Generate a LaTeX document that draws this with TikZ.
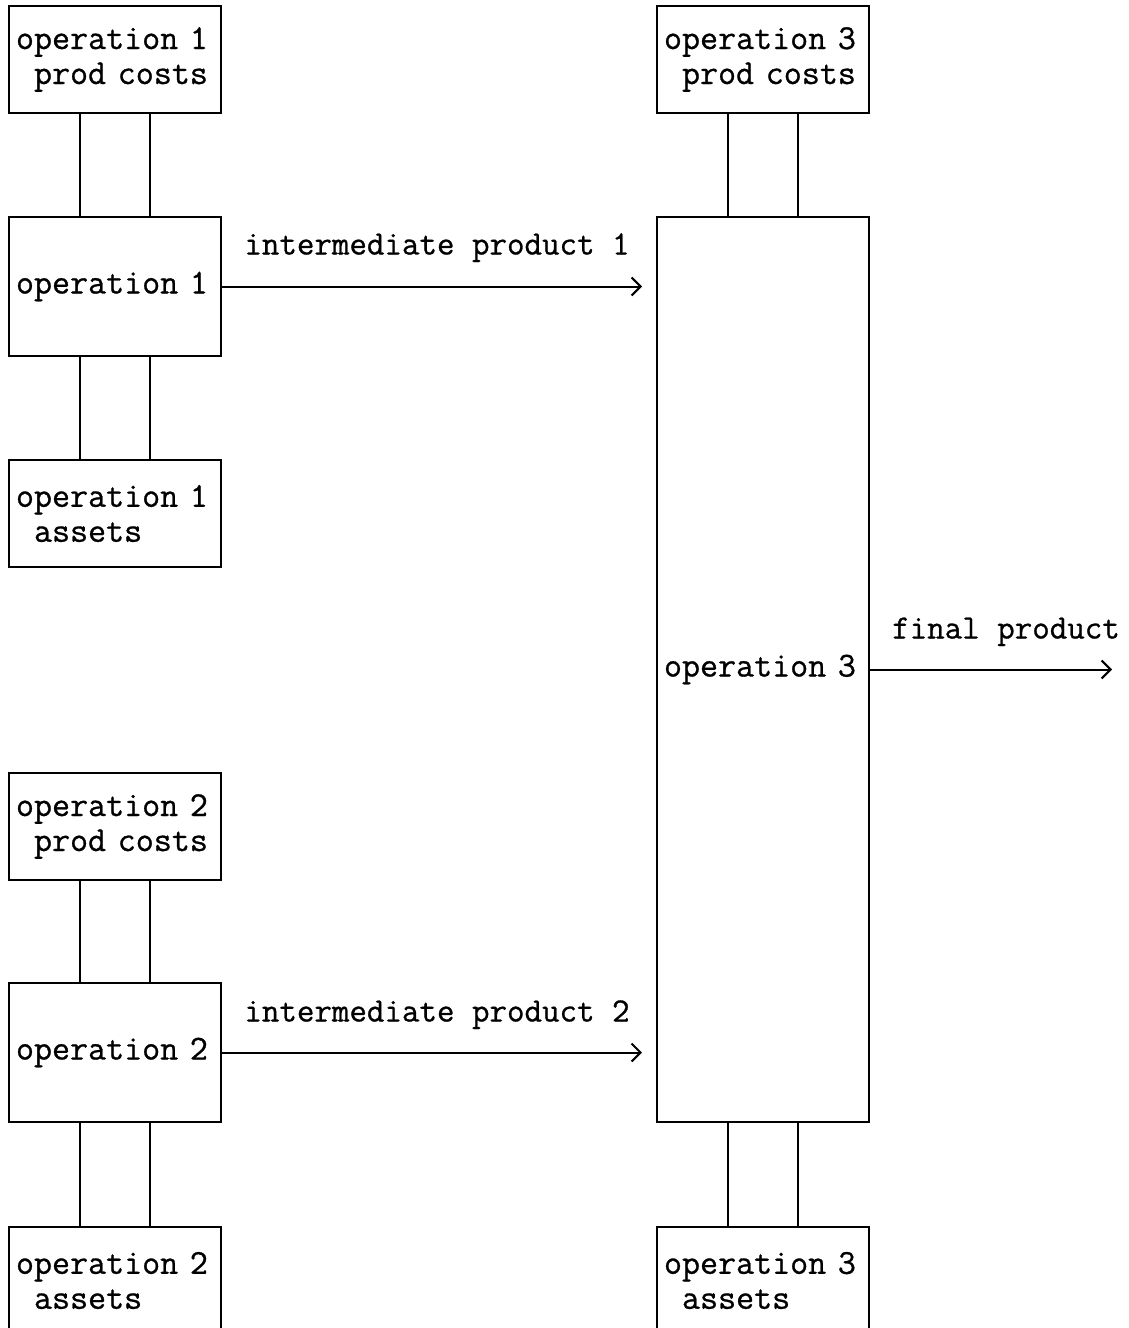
\documentclass[tikz,border=0pt]{standalone}
\usepackage{fontspec}
\usepackage{tikz}
\usetikzlibrary{positioning,arrows.meta}
\newfontfamily\typefont{Latin Modern Mono}[FakeBold=0.8]

\begin{document}
\begin{tikzpicture}[
  x=1pt, y=-1pt,
  font=\typefont,
  opbox/.style={draw, line width=2pt, minimum width=212pt, text width=198pt,
                align=left, inner xsep=7pt, inner ysep=0pt,
                font=\typefont\fontsize{35}{35}\selectfont},
  infobox/.style={opbox, minimum height=107pt},
  link/.style={line width=2pt},
  arr/.style={line width=2pt, -{Straight Barb[length=9pt, width=18pt, line width=2pt]}},
  lab/.style={anchor=base, inner sep=0pt, font=\typefont\fontsize{34}{35}\selectfont}
]
\clip (0,0) rectangle (1129,1328);
% ----- left column: operations 1 and 2 -----
\node[infobox]                     (pc1) at (115,59.5)   {operation 1\\\phantom{o}prod costs};
\node[opbox, minimum height=139pt] (op1) at (115,286.5)  {operation 1};
\node[infobox]                     (as1) at (115,513.5)  {operation 1\\\phantom{o}assets};
\node[infobox]                     (pc2) at (115,826.5)  {operation 2\\\phantom{o}prod costs};
\node[opbox, minimum height=139pt] (op2) at (115,1052.5) {operation 2};
\node[infobox]                     (as2) at (115,1280.5) {operation 2\\\phantom{o}assets};
% ----- right column: operation 3 -----
\node[infobox]                     (pc3) at (763,59.5)   {operation 3\\\phantom{o}prod costs};
\node[opbox, minimum height=905pt] (op3) at (763,669.5)  {operation 3};
\node[infobox]                     (as3) at (763,1280.5) {operation 3\\\phantom{o}assets};
% ----- double links between cost/asset boxes and operations -----
\foreach \a/\b in {pc1/op1, op1/as1, pc2/op2, op2/as2, pc3/op3, op3/as3}{
  \foreach \dx in {-35,35}{\draw[link] ([xshift=\dx pt]\a.south) -- ([xshift=\dx pt]\b.north);}
}
% ----- product flows -----
\draw[arr] (op1.east) -- node[lab, xshift=5pt, yshift=32pt]{intermediate product 1}
  ([xshift=-14pt]op3.west |- op1.east);
\draw[arr] (op2.east) -- node[lab, xshift=5pt, yshift=31pt]{intermediate product 2}
  ([xshift=-14pt]op3.west |- op2.east);
\coordinate (out) at (1112,669.5);
\draw[arr] (op3.east) -- node[lab, xshift=15pt, yshift=31pt]{final product} (out);
\end{tikzpicture}
\end{document}
